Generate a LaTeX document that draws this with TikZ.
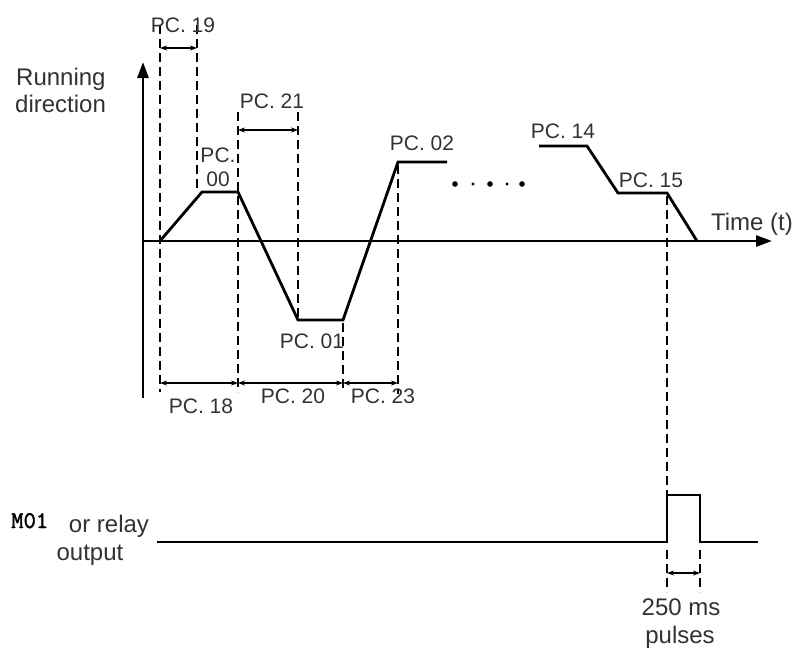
\documentclass[tikz,border=0pt]{standalone}
\usepackage{fontspec}
\setmainfont{Liberation Sans}
\newfontfamily\mofont[FakeBold=1.6]{Latin Modern Mono}
\usetikzlibrary{arrows.meta}
\definecolor{txt}{RGB}{50,50,50}
\begin{document}
\begin{tikzpicture}[x=1pt,y=-1pt,
  curve/.style={line width=2.8pt, line join=miter},
  dashline/.style={line width=2.6pt, dash pattern=on 9pt off 5pt},
  dim/.style={line width=1.1pt, {Stealth[length=7pt,width=5pt]}-{Stealth[length=7pt,width=5pt]}},
  pclbl/.style={font=\fontsize{21}{24}\selectfont, text=txt, inner sep=0pt, anchor=base},
  biglbl/.style={font=\fontsize{24}{27}\selectfont, text=txt, inner sep=0pt, anchor=base},
  axis/.style={line width=2.8pt, -{Triangle[length=16pt,width=11pt]}}]
\useasboundingbox (0,0) rectangle (794,649);
% axes
\coordinate (yb) at (143,398);
\coordinate (yt) at (143,62);
\coordinate (o) at (143,241);
\coordinate (xt) at (772,241);
\draw[axis] (yb) -- (yt);
\draw[axis] (o) -- (xt);
% speed profile
\coordinate (p0) at (160,241);
\coordinate (p1) at (202,192);
\coordinate (p2) at (238,192);
\coordinate (p3) at (298,320);
\coordinate (p4) at (343,320);
\coordinate (p5) at (398,162);
\coordinate (p6) at (447,162);
\draw[curve] (p0) -- (p1) -- (p2) -- (p3) -- (p4) -- (p5) -- (p6);
\coordinate (q0) at (539,146);
\coordinate (q1) at (587,146);
\coordinate (q2) at (618,193);
\coordinate (q3) at (667,193);
\coordinate (q4) at (697,241);
\draw[curve] (q0) -- (q1) -- (q2) -- (q3) -- (q4);
% dots
\fill (455,184) circle (2.8pt);
\fill (473,184) circle (1.7pt);
\fill (490,184) circle (2.8pt);
\fill (507,184) circle (1.7pt);
\fill (522,184) circle (2.8pt);
% dashed guides
\coordinate (d1t) at (160,25);  \coordinate (d1b) at (160,392);
\coordinate (d2t) at (197,25);  \coordinate (d2b) at (197,190);
\coordinate (d3t) at (238,112); \coordinate (d3b) at (238,392);
\coordinate (d4t) at (298,112); \coordinate (d4b) at (298,318);
\coordinate (d5t) at (343,323); \coordinate (d5b) at (343,392);
\coordinate (d6t) at (398,165); \coordinate (d6b) at (398,394);
\coordinate (d7t) at (667,196); \coordinate (d7b) at (667,494);
\coordinate (d8t) at (667,550); \coordinate (d8b) at (667,592);
\coordinate (d9t) at (700,550); \coordinate (d9b) at (700,592);
\foreach \i in {1,...,9} \draw[dashline] (d\i t) -- (d\i b);
% dimension arrows
\coordinate (a19l) at (160,48); \coordinate (a19r) at (197,48);
\coordinate (a21l) at (238,130); \coordinate (a21r) at (298,130);
\coordinate (b1) at (160,383); \coordinate (b2) at (238,383);
\coordinate (b3) at (343,383); \coordinate (b4) at (398,383);
\coordinate (pl) at (667,573); \coordinate (pr) at (700,573);
\draw[dim] (a19l) -- (a19r);
\draw[dim] (a21l) -- (a21r);
\draw[dim] (b1) -- (b2);
\draw[dim] (b2) -- (b3);
\draw[dim] (b3) -- (b4);
\draw[dim] (pl) -- (pr);
% pulse output
\coordinate (s0) at (157,542);
\coordinate (s1) at (667,542);
\coordinate (s2) at (667,495);
\coordinate (s3) at (700,495);
\coordinate (s4) at (700,542);
\coordinate (s5) at (758,542);
\draw[curve] (s0) -- (s1) -- (s2) -- (s3) -- (s4) -- (s5);
% labels
\node[biglbl, anchor=base west] (run) at (16,85) {Running};
\node[biglbl, anchor=base west] (dir) at (15,112) {direction};
\node[biglbl] (time) at (752,230) {Time (t)};
\node[pclbl] (l19) at (183,32) {PC. 19};
\node[pclbl] (l21) at (272,108) {PC. 21};
\node[pclbl] (l00a) at (218,162) {PC.};
\node[pclbl] (l00b) at (218,186) {00};
\node[pclbl] (l02) at (422,150) {PC. 02};
\node[pclbl] (l14) at (563,138) {PC. 14};
\node[pclbl] (l15) at (651,187) {PC. 15};
\node[pclbl] (l01) at (312,348) {PC. 01};
\node[pclbl] (l18) at (201,413) {PC. 18};
\node[pclbl] (l20) at (293,403) {PC. 20};
\node[pclbl] (l23) at (383,403) {PC. 23};
\node[font=\mofont\fontsize{24}{26}\selectfont, text=black, inner sep=0pt, anchor=base west] (m01) at (11,528) {M01};
\node[biglbl] (relay) at (109,532) {or relay};
\node[biglbl] (outp) at (90,560) {output};
\node[biglbl] (ms) at (681,615) {250 ms};
\node[biglbl] (puls) at (680,643) {pulses};
\end{tikzpicture}
\end{document}
